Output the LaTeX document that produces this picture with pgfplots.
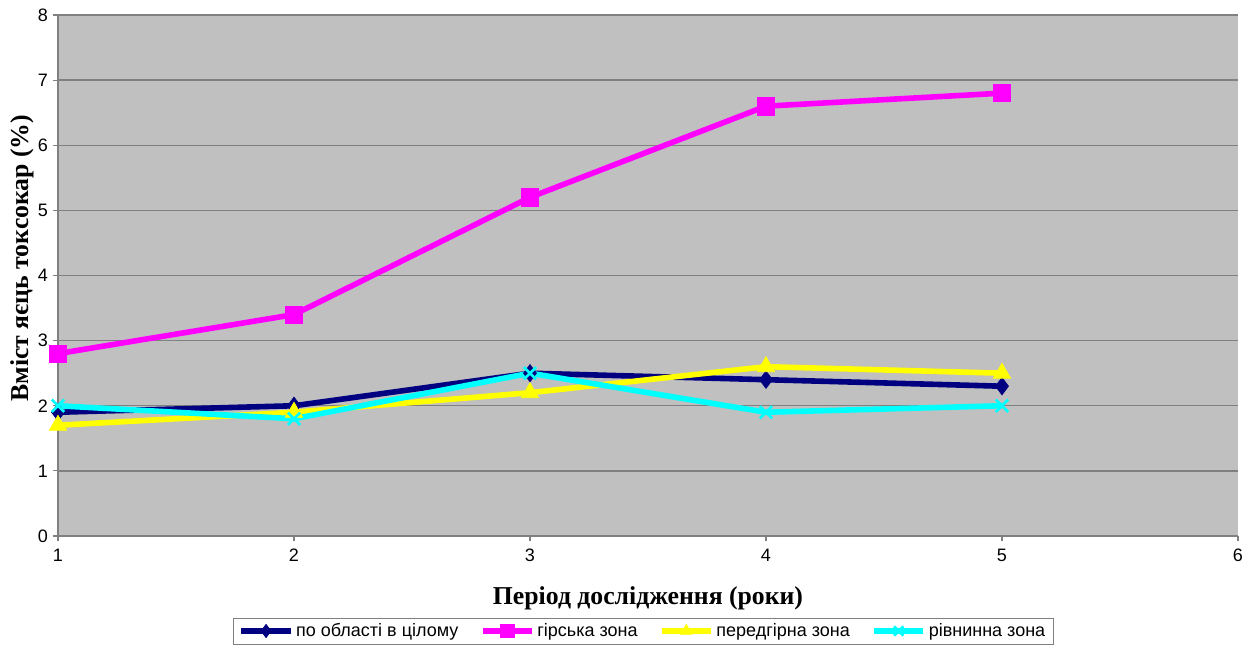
\documentclass[border=0pt]{standalone}
\usepackage{pgfplots}
\pgfplotsset{compat=1.18}
\usepackage{fontspec}
\setmainfont{Liberation Sans}
\newfontfamily\serifb{Liberation Serif}
\definecolor{bg}{HTML}{C0C0C0}
\definecolor{gridc}{HTML}{808080}
\definecolor{navyc}{HTML}{000080}
\definecolor{magc}{HTML}{FF00FF}
\definecolor{yelc}{HTML}{FFFF00}
\definecolor{cyac}{HTML}{00FFFF}
\begin{document}
\begin{tikzpicture}
\begin{axis}[
  at={(0,0)}, anchor=south west,
  scale only axis,
  width=885pt, height=390.75pt,
  xmin=1, xmax=6, ymin=0, ymax=8,
  xtick={1,2,3,4,5,6}, ytick={0,1,2,3,4,5,6,7,8},
  axis lines*=left,
  axis line style={gridc, line width=0.8pt},
  every tick/.style={gridc, line width=0.8pt},
  tick align=outside, major tick length=4pt,
  ymajorgrids, grid style={gridc, line width=1pt},
  axis background/.style={fill=bg},
  /pgf/number format/assume math mode=true,
  tick label style={font=\fontsize{13.5pt}{15pt}\selectfont},
  xticklabel style={yshift=-2pt},
  xlabel={\serifb\bfseries Період дослідження (роки)},
  ylabel={\serifb\bfseries Вміст яєць токсокар (\%)},
  label style={font=\fontsize{19.3pt}{21pt}\selectfont},
  xlabel style={at={(axis description cs:0.5,0)}, anchor=center, yshift=-46.5pt},
  ylabel style={at={(axis description cs:0,0.5)}, anchor=center, yshift=27pt, xshift=13pt},
  clip=false,
  legend columns=4,
  legend style={at={(axis description cs:0.496,0)}, anchor=center, yshift=-71.25pt,
    draw=gridc, line width=0.6pt, font=\fontsize{13.5pt}{15pt}\selectfont,
    /tikz/every even column/.append style={column sep=14pt},
    /tikz/every odd column/.append style={column sep=0pt},
    inner xsep=4pt, inner ysep=2pt},
  legend image code/.code={
    \draw[mark repeat=2,mark phase=2,#1,mark size=5pt] plot coordinates {(0cm,0cm) (0.65cm,0cm) (1.3cm,0cm)};},
]
\addplot[navyc, line width=4.2pt, mark=diamond*, mark size=6.5pt, mark options={solid, line width=0.5pt, fill=navyc}]
  coordinates {(1,1.9) (2,2.0) (3,2.5) (4,2.4) (5,2.3)};
\addlegendentry{по області в цілому}
\addplot[magc, line width=4.2pt, mark=square*, mark size=6.5pt, mark options={solid, line width=0.5pt, fill=magc}]
  coordinates {(1,2.8) (2,3.4) (3,5.2) (4,6.6) (5,6.8)};
\addlegendentry{гірська зона}
\addplot[yelc, line width=4.2pt, mark=triangle*, mark size=7.5pt, mark options={solid, line width=0.5pt, fill=yelc}]
  coordinates {(1,1.7) (2,1.9) (3,2.2) (4,2.6) (5,2.5)};
\addlegendentry{передгірна зона}
\addplot[cyac, line width=4.2pt, mark=x, mark size=6.5pt, mark options={solid, line width=2pt}]
  coordinates {(1,2.0) (2,1.8) (3,2.5) (4,1.9) (5,2.0)};
\addlegendentry{рівнинна зона}
\end{axis}
\path[use as bounding box] (-43.5pt,-82.5pt) rectangle (894pt,402pt);
\end{tikzpicture}
\end{document}
